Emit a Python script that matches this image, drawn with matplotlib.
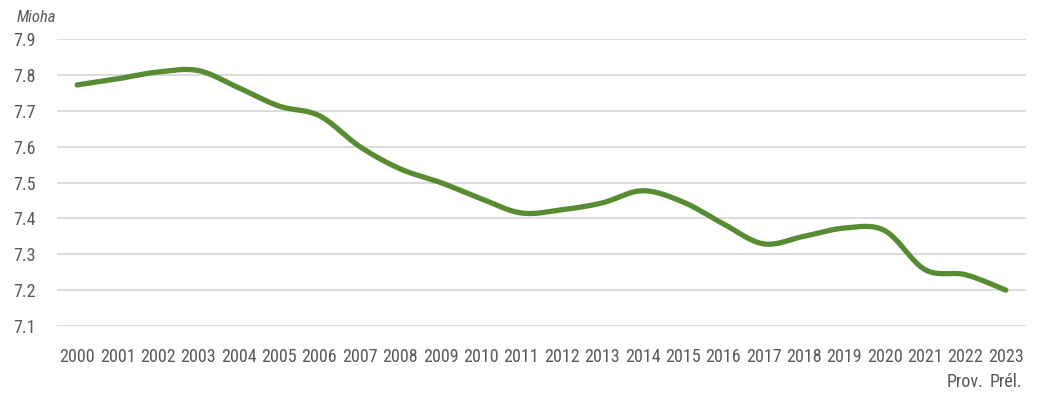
import numpy as np
import matplotlib
matplotlib.use("Agg")
import matplotlib.pyplot as plt
from matplotlib import font_manager

years = [str(y) for y in range(2000, 2024)]
sub_labels = [""] * 22 + ["Prov.", "Prél."]
values = [7.772, 7.789, 7.808, 7.812, 7.764, 7.713, 7.686, 7.600, 7.538, 7.500,
          7.455, 7.415, 7.424, 7.443, 7.477, 7.446, 7.385, 7.329, 7.350, 7.373,
          7.366, 7.257, 7.243, 7.200]
yticks = [7.1, 7.2, 7.3, 7.4, 7.5, 7.6, 7.7, 7.8, 7.9]

# pick a narrow font if there is one
names = {f.name for f in font_manager.fontManager.ttflist}
fam = "DejaVu Sans"
for cand in ["Liberation Sans Narrow", "Roboto Condensed", "Open Sans Condensed", "Roboto"]:
    if cand in names:
        fam = cand
        break
plt.rcParams['font.family'] = [fam, 'DejaVu Sans']

grey = "#595959"
green = "#578C33"


def smooth(y, n=30):
    # catmull-rom style smoothing like a spreadsheet "smoothed line"
    x = np.arange(len(y), dtype=float)
    y = np.asarray(y, dtype=float)
    xs, ys = [], []
    for i in range(len(y) - 1):
        p0 = (x[i - 1], y[i - 1]) if i > 0 else (x[i], y[i])
        p1 = (x[i], y[i])
        p2 = (x[i + 1], y[i + 1])
        p3 = (x[i + 2], y[i + 2]) if i + 2 < len(y) else (x[i + 1], y[i + 1])
        c1 = (p1[0] + (p2[0] - p0[0]) / 6, p1[1] + (p2[1] - p0[1]) / 6)
        c2 = (p2[0] - (p3[0] - p1[0]) / 6, p2[1] - (p3[1] - p1[1]) / 6)
        t = np.linspace(0, 1, n)
        for k in range(2):
            pts = [p1[k], c1[k], c2[k], p2[k]]
            b = ((1 - t) ** 3 * pts[0] + 3 * (1 - t) ** 2 * t * pts[1]
                 + 3 * (1 - t) * t ** 2 * pts[2] + t ** 3 * pts[3])
            (xs if k == 0 else ys).append(b)
    return np.concatenate(xs), np.concatenate(ys)


fig = plt.figure(figsize=(10.4, 3.96), dpi=100)
ax = fig.add_axes([57 / 1040, 1 - 326 / 396, 969 / 1040, 287 / 396])

sx, sy = smooth(values)
ax.plot(sx, sy, color=green, linewidth=3.8, solid_capstyle='round', zorder=3)

ax.set_xlim(-0.5, len(years) - 0.5)
ax.set_ylim(7.1, 7.9)
ax.set_yticks(yticks)
ax.set_yticklabels([f"{v:.1f}" for v in yticks], fontsize=13, color=grey)
ax.set_xticks(range(len(years)))
ax.set_xticklabels([y if s == "" else y + "\n" + s for y, s in zip(years, sub_labels)],
                   fontsize=13, color=grey, va='top', linespacing=1.45,
                   multialignment='center')
ax.tick_params(axis='both', length=0)
ax.tick_params(axis='y', pad=15)
ax.tick_params(axis='x', pad=16)
ax.grid(axis='y', color="#d9d9d9", linewidth=1.3)
ax.set_axisbelow(True)
for s in ax.spines.values():
    s.set_visible(False)

fig.text(17 / 1040, 1 - 18 / 396, "Mioha", fontsize=12, style='italic',
         color=grey, va='center', ha='left')

fig.savefig("out.png", dpi=100)
